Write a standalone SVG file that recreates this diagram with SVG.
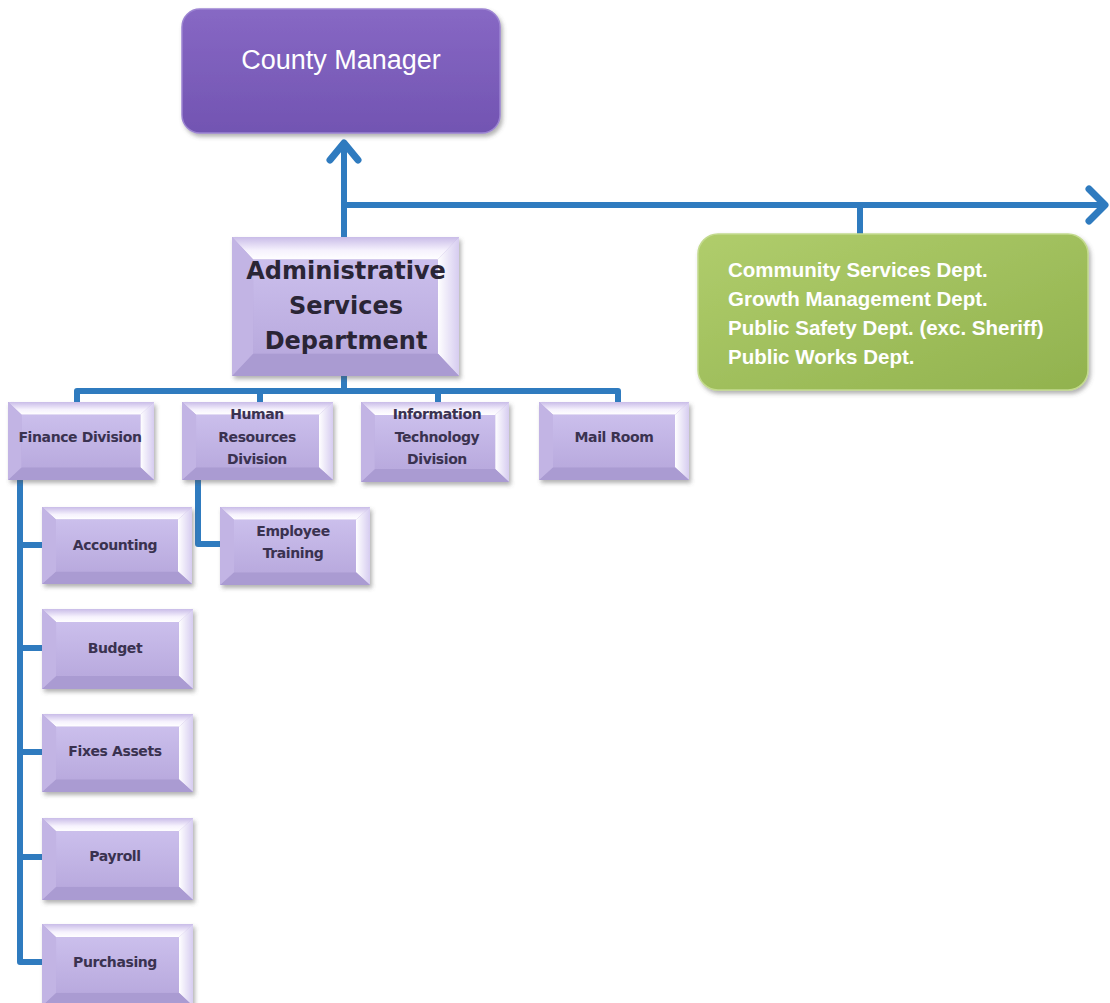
<svg xmlns="http://www.w3.org/2000/svg" width="1110" height="1003" viewBox="0 0 1110 1003">
  <defs>
    <linearGradient id="mgrGrad" x1="0" y1="0" x2="0" y2="1">
      <stop offset="0" stop-color="#8768c4"/>
      <stop offset="1" stop-color="#7254b2"/>
    </linearGradient>
    <linearGradient id="grnGrad" x1="0" y1="0" x2="1" y2="1">
      <stop offset="0" stop-color="#b0cd6c"/>
      <stop offset="1" stop-color="#91b24e"/>
    </linearGradient>
    <linearGradient id="faceGrad" x1="0" y1="0" x2="0" y2="1">
      <stop offset="0" stop-color="#cbbfec"/>
      <stop offset="1" stop-color="#b9aade"/>
    </linearGradient>
    <linearGradient id="topBevel" x1="0" y1="0" x2="0" y2="1">
      <stop offset="0" stop-color="#c9bce8"/>
      <stop offset="0.6" stop-color="#f6f2fd"/>
      <stop offset="1" stop-color="#ffffff"/>
    </linearGradient>
    <linearGradient id="rightBevel" x1="0" y1="0" x2="1" y2="0">
      <stop offset="0" stop-color="#ffffff"/>
      <stop offset="1" stop-color="#d6ccf0"/>
    </linearGradient>
    <filter id="shadow" x="-10%" y="-10%" width="125%" height="130%">
      <feDropShadow dx="2" dy="3" stdDeviation="2" flood-color="#555" flood-opacity="0.45"/>
    </filter>
    <!-- bevelled lavender tile, stretched to each box -->
    <symbol id="bevel" viewBox="0 0 150 80" preserveAspectRatio="none">
      <rect x="0" y="0" width="150" height="80" fill="#b8a8dc"/>
      <polygon points="0,0 150,0 136,13 14,13" fill="url(#topBevel)"/>
      <polygon points="150,0 150,80 136,67 136,13" fill="url(#rightBevel)"/>
      <polygon points="0,80 150,80 136,67 14,67" fill="#aa9bd2"/>
      <polygon points="0,0 14,13 14,67 0,80" fill="#c2b4e4"/>
      <rect x="14" y="13" width="122" height="54" fill="url(#faceGrad)"/>
    </symbol>
    <style>
      .link { fill: none; stroke: #2f7bbf; stroke-width: 6; stroke-linejoin: round; }
      .head { fill: none; stroke: #2f7bbf; stroke-width: 7; stroke-linecap: round; stroke-linejoin: round; }
      .tile { filter: url(#shadow); }
      .lbl { font-family: "DejaVu Sans", Verdana, sans-serif; font-weight: bold; font-size: 14px; fill: #3a3250; text-anchor: middle; letter-spacing: -0.4px; }
      .adm { font-family: "DejaVu Sans", Verdana, sans-serif; font-weight: bold; font-size: 24px; fill: #2a2535; text-anchor: middle; }
      .mgr { font-family: "Liberation Sans", Arial, sans-serif; font-size: 27px; fill: #ffffff; text-anchor: middle; }
      .grn { font-family: "Liberation Sans", Arial, sans-serif; font-weight: bold; font-size: 20.5px; fill: #ffffff; }
    </style>
  </defs>

  <rect width="1110" height="1003" fill="#ffffff"/>

  <!-- connectors -->
  <g id="connectors">
    <path class="link" d="M344,238 V142"/>
    <path class="head" d="M330,160 L344,143 L358,160"/>
    <path class="link" d="M344,205 H1103"/>
    <path class="head" d="M1089,189 L1105,205 L1089,221"/>
    <path class="link" d="M860,205 V236"/>
    <path class="link" d="M344,374 V391"/>
    <path class="link" d="M77,403 V391 H618 V403"/>
    <path class="link" d="M260,391 V403"/>
    <path class="link" d="M438,391 V403"/>
    <path class="link" d="M20,480 V962 H44"/>
    <path class="link" d="M20,545 H44"/>
    <path class="link" d="M20,648 H44"/>
    <path class="link" d="M20,752 H44"/>
    <path class="link" d="M20,857 H44"/>
    <path class="link" d="M198,480 V544 H222"/>
  </g>

  <!-- top level -->
  <g id="county-manager">
    <rect x="182" y="9" width="318" height="124" rx="18" fill="url(#mgrGrad)" stroke="#9c84d2" stroke-width="1.5" filter="url(#shadow)"/>
    <text class="mgr" x="341" y="69">County Manager</text>
  </g>

  <g id="other-departments">
    <rect x="698" y="234" width="390" height="156" rx="20" fill="url(#grnGrad)" stroke="#c3da8e" stroke-width="1.5" filter="url(#shadow)"/>
    <text class="grn" x="728" y="277">Community Services Dept.</text>
    <text class="grn" x="728" y="306">Growth Management Dept.</text>
    <text class="grn" x="728" y="335">Public Safety Dept. (exc. Sheriff)</text>
    <text class="grn" x="728" y="364">Public Works Dept.</text>
  </g>

  <g id="admin-services">
    <use href="#bevel" class="tile" x="232" y="237" width="227" height="139"/>
    <text class="adm" x="346" y="279">Administrative</text>
    <text class="adm" x="346" y="314">Services</text>
    <text class="adm" x="346" y="349">Department</text>
  </g>

  <!-- divisions -->
  <g id="finance-division">
    <use href="#bevel" class="tile" x="8" y="402" width="146" height="78"/>
    <text class="lbl" x="80" y="442">Finance Division</text>
  </g>
  <g id="hr-division">
    <use href="#bevel" class="tile" x="182" y="402" width="151" height="78"/>
    <text class="lbl" x="257" y="419">Human</text>
    <text class="lbl" x="257" y="442">Resources</text>
    <text class="lbl" x="257" y="464">Division</text>
  </g>
  <g id="it-division">
    <use href="#bevel" class="tile" x="361" y="402" width="148" height="80"/>
    <text class="lbl" x="437" y="419">Information</text>
    <text class="lbl" x="437" y="442">Technology</text>
    <text class="lbl" x="437" y="464">Division</text>
  </g>
  <g id="mail-room">
    <use href="#bevel" class="tile" x="539" y="402" width="150" height="78"/>
    <text class="lbl" x="614" y="442">Mail Room</text>
  </g>

  <!-- finance units -->
  <g id="accounting">
    <use href="#bevel" class="tile" x="42" y="507" width="150" height="77"/>
    <text class="lbl" x="115" y="550">Accounting</text>
  </g>
  <g id="budget">
    <use href="#bevel" class="tile" x="42" y="609" width="151" height="80"/>
    <text class="lbl" x="115" y="653">Budget</text>
  </g>
  <g id="fixes-assets">
    <use href="#bevel" class="tile" x="42" y="714" width="151" height="78"/>
    <text class="lbl" x="115" y="756">Fixes Assets</text>
  </g>
  <g id="payroll">
    <use href="#bevel" class="tile" x="42" y="818" width="151" height="82"/>
    <text class="lbl" x="115" y="861">Payroll</text>
  </g>
  <g id="purchasing">
    <use href="#bevel" class="tile" x="42" y="924" width="151" height="82"/>
    <text class="lbl" x="115" y="967">Purchasing</text>
  </g>

  <!-- HR unit -->
  <g id="employee-training">
    <use href="#bevel" class="tile" x="220" y="507" width="150" height="78"/>
    <text class="lbl" x="293" y="536">Employee</text>
    <text class="lbl" x="293" y="558">Training</text>
  </g>
</svg>
